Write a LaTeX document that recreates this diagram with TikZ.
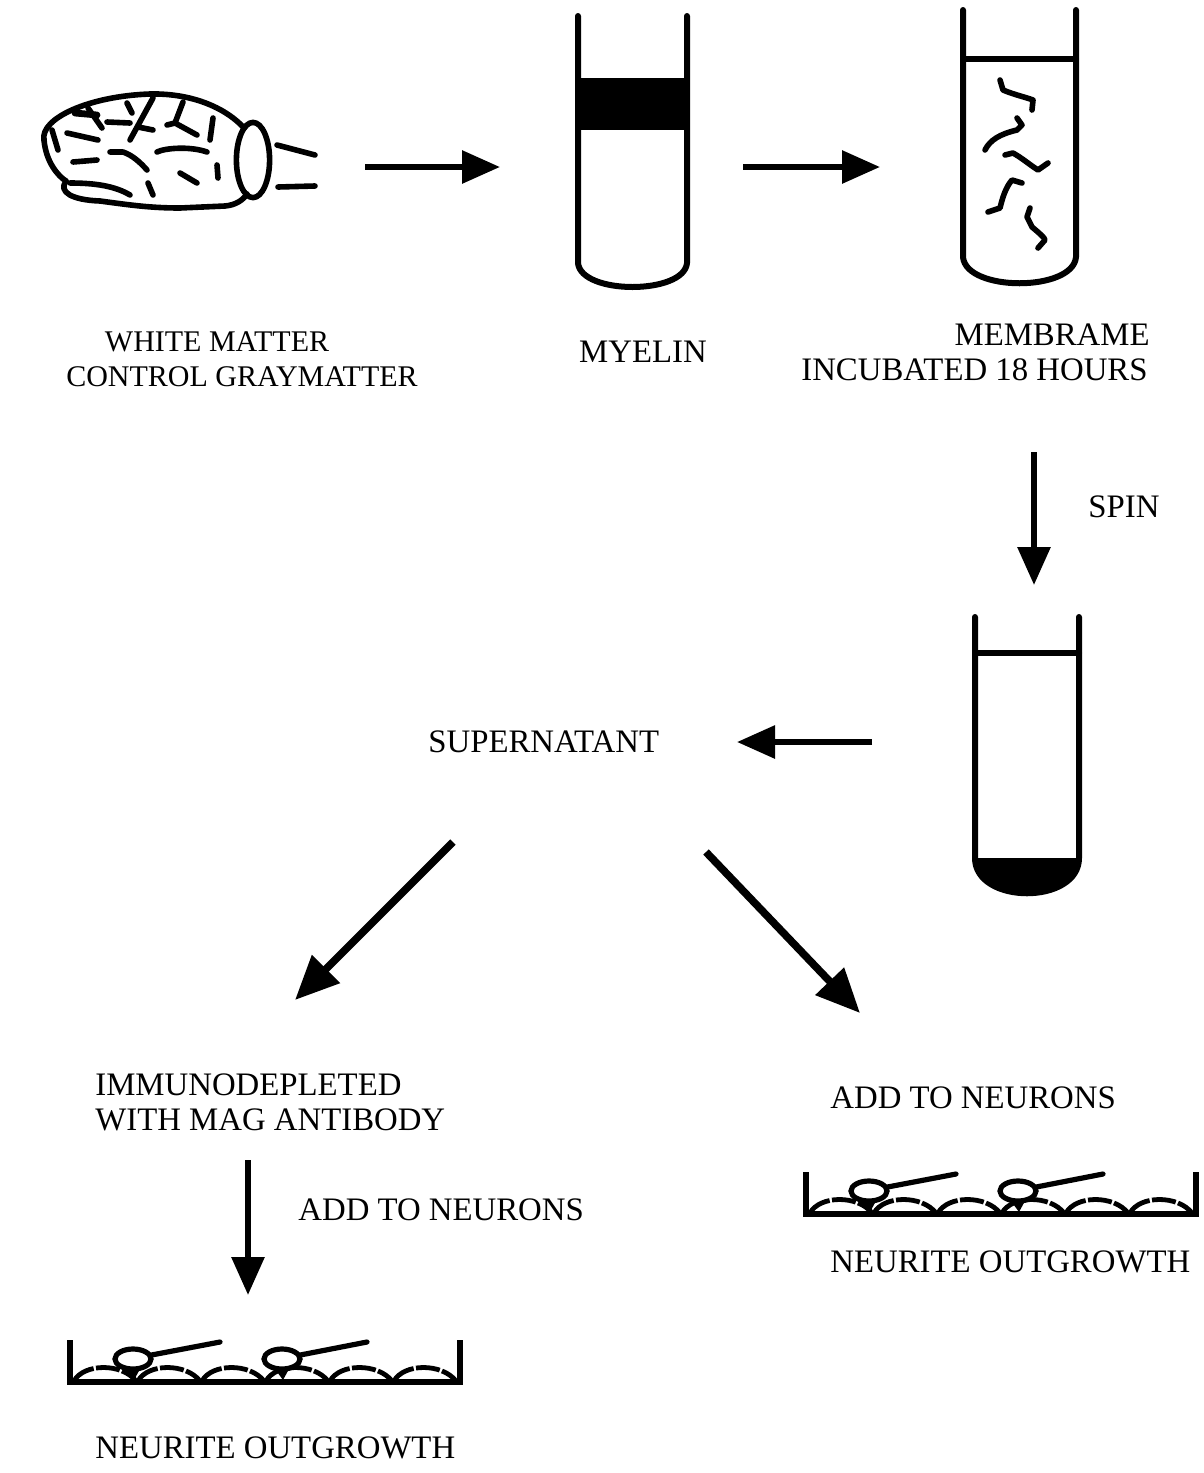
\documentclass[tikz,border=0pt]{standalone}
\usepackage{fontspec}
\setmainfont{Liberation Serif}
\usetikzlibrary{arrows.meta}
\begin{document}
\begin{tikzpicture}[x=0.5pt,y=-0.5pt,
  caption/.style={font=\fontsize{16.4}{17.5}\selectfont, inner sep=0pt},
  smallcaption/.style={font=\fontsize{15}{17.5}\selectfont, inner sep=0pt},
  flow/.style={line width=3pt, -{Triangle[length=19pt,width=16pt]}},
  bigflow/.style={line width=3.8pt, -{Triangle[length=22pt,width=19pt]}},
  tube/.style={line width=3pt, line join=round, line cap=round},
  sketch/.style={line width=2.8pt, line cap=round, line join=round},
  cellrow/.style={line width=2.4pt, dash pattern=on 12pt off 1.2pt},
  dishwall/.style={line width=2.6pt},
  culture dish/.pic={
    \draw[dishwall] (0,-42) -- (0,0) -- (390,0) -- (390,-42);
    \foreach \a in {0,1,...,5}
      \draw[cellrow] ({4+\a*64},-1) .. controls ({14+\a*64},-19) and ({52+\a*64},-19) .. ({66+\a*64},-1);
    \foreach \c/\e in {63/150, 212/297}{
      \fill ({\c-7},-13) -- ({\c+7},-13) -- ({\c+1},-2) -- cycle;
      \draw[line width=2.6pt, line cap=round] ({\c+8},-25) -- (\e,-40);
      \filldraw[fill=white, line width=2.6pt] (\c,-23) ellipse [x radius=9pt, y radius=5pt];
    }
  }]
\useasboundingbox (0,0) rectangle (1204,1473);
\fill[white] (0,0) rectangle (1204,1473);

% ---- brain ----
\draw[sketch] (44,140) .. controls (40,118) and (90,96) .. (150,94)
              .. controls (195,93) and (228,110) .. (244,128);
\draw[sketch] (44,140) .. controls (46,162) and (58,176) .. (66,181);
\draw[sketch] (66,181) .. controls (58,192) and (72,200) .. (100,201)
              .. controls (130,205) and (150,208) .. (180,208) -- (225,206)
              .. controls (236,205) and (243,200) .. (247,194);
\draw[sketch] (70,183) .. controls (95,183) and (115,186) .. (130,195);
\draw[sketch] (253,160) ellipse [x radius=8.3pt, y radius=18.8pt];
\draw[sketch] (277,145) -- (315,155);
\draw[sketch] (278,187) -- (315,186);
% sulci
\draw[sketch] (52,130) -- (58,150);
\draw[sketch] (67,133) -- (98,140);
\draw[sketch, line width=3.4pt] (75,113) -- (97,115);
\draw[sketch] (88,108) -- (102,128);
\draw[sketch] (107,122) -- (130,123);
\draw[sketch] (127,103) -- (132,113);
\draw[sketch] (153,98) -- (130,140);
\draw[sketch] (138,127) -- (153,130);
\draw[sketch] (183,102) -- (175,123) -- (167,125);
\draw[sketch] (175,123) -- (197,135);
\draw[sketch] (213,118) -- (210,140);
\draw[sketch] (73,162) -- (97,160);
\draw[sketch] (110,152) -- (123,152) .. controls (132,155) and (140,162) .. (147,170);
\draw[sketch] (157,152) .. controls (165,148) and (190,146) .. (207,152);
\draw[sketch] (180,173) -- (197,183);
\draw[sketch] (217,165) -- (218,178);
\draw[sketch] (148,183) -- (153,195);

% ---- myelin tube ----
\draw[tube] (578,16) -- (578,263) .. controls (581,295) and (684,295) .. (687,263) -- (687,16);
\fill (578,78) rectangle (687,130);

% ---- membrane tube ----
\draw[tube] (963,10) -- (963,257) .. controls (966,292) and (1073,292) .. (1076,257) -- (1076,10);
\draw[tube] (963,59) -- (1076,59);
\draw[sketch] (1000,80) -- (1003,90) .. controls (1015,95) and (1025,97) .. (1033,100) -- (1032,110);
\draw[sketch] (1017,118) -- (1022,125) -- (1017,130) .. controls (1000,134) and (990,140) .. (985,150);
\draw[sketch] (1005,155) -- (1013,153) .. controls (1022,158) and (1030,165) .. (1038,170) -- (1048,163);
\draw[sketch] (1022,183) -- (1012,180) .. controls (1005,188) and (1002,200) .. (1000,208) -- (988,212);
\draw[sketch] (1030,208) -- (1027,217) -- (1032,227) .. controls (1038,232) and (1045,238) .. (1045,240) -- (1038,248);

% ---- spun tube with pellet ----
\fill (975,858) .. controls (975,905) and (1079,905) .. (1079,858) -- cycle;
\draw[tube] (975,617) -- (975,858) .. controls (975,905) and (1079,905) .. (1079,858) -- (1079,617);
\draw[tube] (975,653) -- (1079,653);

% ---- culture dishes ----
\pic at (70,1382) {culture dish};
\pic at (806,1214) {culture dish};

% ---- captions ----
\node[smallcaption] (wm) at (217,342) {WHITE MATTER};
\node[smallcaption] (gm) at (242,377) {CONTROL GRAYMATTER};
\node[caption] (my) at (643,352) {MYELIN};
\node[caption, anchor=east] (mb) at (1150,335) {MEMBRAME};
\node[caption, anchor=east] (inc) at (1148,370) {INCUBATED 18 HOURS};
\node[caption, anchor=west] (spin) at (1088,507) {SPIN};
\node[caption, anchor=west] (sup) at (428,742) {SUPERNATANT};
\node[caption, anchor=west] (imm) at (95,1085) {IMMUNODEPLETED};
\node[caption, anchor=west] (mag) at (95,1120) {WITH MAG ANTIBODY};
\node[caption, anchor=west] (addl) at (298,1210) {ADD TO NEURONS};
\node[caption, anchor=west] (addr) at (830,1098) {ADD TO NEURONS};
\node[caption, anchor=west] (outr) at (830,1262) {NEURITE OUTGROWTH};
\node[caption, anchor=west] (outl) at (95,1448) {NEURITE OUTGROWTH};

% ---- arrows ----
\coordinate (brainR) at (365,167);
\coordinate (myelinL) at (500,167);
\coordinate (myelinR) at (743,167);
\coordinate (membL) at (880,167);
\coordinate (spinTop) at (1034,452);
\coordinate (spinBot) at (1034,585);
\coordinate (spunL) at (872,742);
\coordinate (supR) at (737,742);
\coordinate (supSW) at (453,842);
\coordinate (immNE) at (295,1000);
\coordinate (supSE) at (706,852);
\coordinate (addNW) at (860,1013);
\coordinate (magS) at (248,1160);
\coordinate (dishN) at (248,1295);

\draw[flow] (brainR) -- (myelinL);
\draw[flow] (myelinR) -- (membL);
\draw[flow] (spinTop) -- (spinBot);
\draw[flow] (spunL) -- (supR);
\draw[bigflow] (supSW) -- (immNE);
\draw[bigflow] (supSE) -- (addNW);
\draw[flow] (magS) -- (dishN);
\end{tikzpicture}
\end{document}
